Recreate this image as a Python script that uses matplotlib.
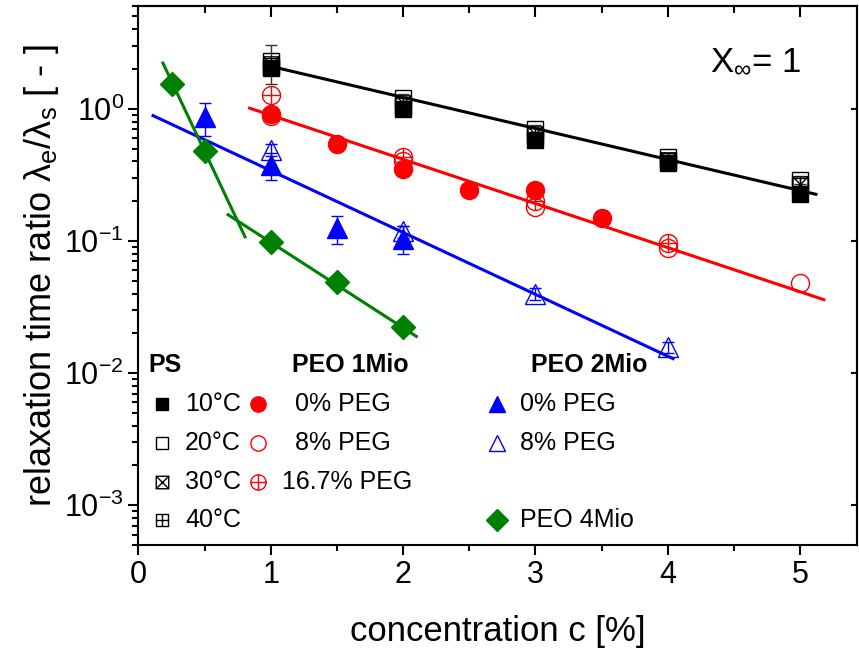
import numpy as np
import matplotlib
matplotlib.use("Agg")
import matplotlib.pyplot as plt
from matplotlib.path import Path
from matplotlib.ticker import LogLocator, NullFormatter, NullLocator, MultipleLocator

plt.rcParams["font.family"] = ["Liberation Sans", "DejaVu Sans"]
plt.rcParams["axes.unicode_minus"] = False
plt.rcParams["mathtext.fontset"] = "custom"
plt.rcParams["mathtext.rm"] = "Liberation Sans"
plt.rcParams["mathtext.it"] = "Liberation Sans:italic"
plt.rcParams["mathtext.bf"] = "Liberation Sans:bold"

# ---------------- data ----------------
ps_c = [1, 2, 3, 4, 5]
ps_10 = [2.05, 1.00, 0.58, 0.39, 0.225]
ps_20 = [2.30, 1.20, 0.70, 0.43, 0.29]
ps_30 = [2.20, 1.10, 0.65, 0.41, 0.27]
ps_40 = [2.10, 1.05, 0.62, 0.40, 0.26]
ps_20_err = [0.75, 0.10, 0.05, 0.03, 0.02]

peo1_0_c = [1, 1.5, 2, 2.5, 3, 3.5]
peo1_0 = [0.92, 0.54, 0.35, 0.245, 0.245, 0.15]
peo1_8_c = [1, 2, 3, 4, 5]
peo1_8 = [0.88, 0.40, 0.18, 0.088, 0.048]
peo1_16_c = [1, 2, 3, 4]
peo1_16 = [1.28, 0.43, 0.20, 0.097]

peo2_0_c = [0.5, 1, 1.5, 2]
peo2_0 = [0.86, 0.375, 0.125, 0.104]
peo2_0_err = [0.24, 0.085, 0.03, 0.025]
peo2_8_c = [1, 2, 3, 4]
peo2_8 = [0.49, 0.118, 0.040, 0.0157]
peo2_8_err = [0.05, 0.012, 0.004, 0.0016]

peo4_c = [0.25, 0.5, 1, 1.5, 2]
peo4 = [1.53, 0.48, 0.099, 0.049, 0.0225]

# exponential fits  y = A * 10**(-k c), drawn over [c0, c1]
fit_ps = (3.6, 0.235, 0.97, 5.12)
fit_peo1 = (1.93, 0.334, 0.84, 5.18)
fit_peo2 = (1.0, 0.468, 0.11, 4.04)
fit_peo4_a = (5.47, 2.12, 0.185, 0.805)
fit_peo4_b = (0.433, 0.647, 0.677, 2.10)

RED = "#ff0000"
BLUE = "#0000ff"
GREEN = "#008000"

# ---------------- custom markers ----------------
SQ = [(-1, -1), (1, -1), (1, 1), (-1, 1), (-1, -1)]
SQ_CODES = [Path.MOVETO] + [Path.LINETO] * 3 + [Path.CLOSEPOLY]
LINE2 = [Path.MOVETO, Path.LINETO, Path.MOVETO, Path.LINETO]
BOX_X = Path(SQ + [(-1, -1), (1, 1), (-1, 1), (1, -1)], SQ_CODES + LINE2)
BOX_PLUS = Path(SQ + [(-1, 0), (1, 0), (0, -1), (0, 1)], SQ_CODES + LINE2)
CIRC_PLUS = Path.make_compound_path(
    Path.unit_circle(), Path([(-1, 0), (1, 0), (0, -1), (0, 1)], LINE2))

fig = plt.figure(figsize=(8.59, 6.57), dpi=100)
ax = fig.add_axes([0.1612, 0.1705, 0.8364, 0.8204])
ax.set_yscale("log")
ax.set_xlim(0, 5.43)
ax.set_ylim(5e-4, 6)


def fit_line(p, color):
    A, k, c0, c1 = p
    c = np.linspace(c0, c1, 50)
    ax.plot(c, A * 10 ** (-k * c), color=color, lw=2.2, zorder=2)


fit_line(fit_ps, "black")
fit_line(fit_peo1, RED)
fit_line(fit_peo2, BLUE)
fit_line(fit_peo4_a, GREEN)
fit_line(fit_peo4_b, GREEN)

# error bars
ax.errorbar(ps_c, ps_20, yerr=ps_20_err, fmt="none", ecolor="#333333",
            elinewidth=1, capsize=4, capthick=1, zorder=3)
ax.errorbar(peo2_0_c, peo2_0, yerr=peo2_0_err, fmt="none", ecolor=BLUE,
            elinewidth=1, capsize=4, capthick=1, zorder=3)
ax.errorbar(peo2_8_c, peo2_8, yerr=peo2_8_err, fmt="none", ecolor=BLUE,
            elinewidth=1, capsize=4, capthick=1, zorder=3)

mk = dict(linestyle="none", zorder=4)
hol = dict(markerfacecolor="none", markeredgewidth=1.0)

# PS
ax.plot(ps_c, ps_10, marker="s", ms=11, color="black", **mk)
ax.plot(ps_c, ps_20, marker="s", ms=11, color="black", **hol, **mk)
ax.plot(ps_c, ps_30, marker=BOX_X, ms=11, color="black", **hol, **mk)
ax.plot(ps_c, ps_40, marker=BOX_PLUS, ms=11, color="black", **hol, **mk)
# PEO 1Mio
ax.plot(peo1_0_c, peo1_0, marker="o", ms=13, color=RED, **mk)
ax.plot(peo1_8_c, peo1_8, marker="o", ms=13, color=RED, **hol, **mk)
ax.plot(peo1_16_c, peo1_16, marker=CIRC_PLUS, ms=13, color=RED, **hol, **mk)
# PEO 2Mio
ax.plot(peo2_0_c, peo2_0, marker="^", ms=15, color=BLUE, **mk)
ax.plot(peo2_8_c, peo2_8, marker="^", ms=15, color=BLUE, **hol, **mk)
# PEO 4Mio
ax.plot(peo4_c, peo4, marker="D", ms=12, color=GREEN, **mk)

# ---------------- axes styling ----------------
for s in ax.spines.values():
    s.set_linewidth(1.5)
ax.xaxis.set_major_locator(MultipleLocator(1))
ax.xaxis.set_minor_locator(MultipleLocator(0.5))
ax.yaxis.set_major_locator(LogLocator(base=10, numticks=10))
ax.yaxis.set_minor_locator(LogLocator(base=10, subs=np.arange(2, 10), numticks=10))
ax.yaxis.set_minor_formatter(NullFormatter())
ax.tick_params(which="both", direction="out", width=1.5, labelsize=22)
ax.tick_params(which="major", length=7)
ax.tick_params(which="minor", length=4)

top = ax.secondary_xaxis("top")
top.xaxis.set_major_locator(MultipleLocator(1))
top.xaxis.set_minor_locator(MultipleLocator(0.5))
top.tick_params(which="both", direction="in", width=1.5, labeltop=False)
top.tick_params(which="major", length=8)
top.tick_params(which="minor", length=5)
top.spines["top"].set_linewidth(1.5)

right = ax.secondary_yaxis("right")
right.yaxis.set_major_locator(LogLocator(base=10, numticks=10))
right.yaxis.set_minor_locator(NullLocator())
right.tick_params(which="both", direction="in", width=1.5, length=4, labelright=False)
right.spines["right"].set_linewidth(1.5)

ax.set_xlabel("concentration c [%]", fontsize=25, labelpad=18)
ax.set_ylabel("relaxation time ratio λ$_\\mathregular{e}$/λ$_\\mathregular{s}$ [ - ]",
              fontsize=26, labelpad=2)

ax.text(0.795, 0.90, "X$_\\infty$= 1", transform=ax.transAxes, fontsize=25,
        va="center", ha="left")

# ---------------- hand-built legend ----------------
T = ax.transAxes
lf = dict(transform=T, fontsize=18, va="center", ha="left")
hf = dict(lf, fontweight="bold")
rows = [0.2616, 0.189, 0.117, 0.046]
ax.text(0.0132, 0.334, "PS", **hf)
ax.text(0.214, 0.334, "PEO 1Mio", **hf)
ax.text(0.546, 0.334, "PEO 2Mio", **hf)

ps_labels = ["10°C", "20°C", "30°C", "40°C"]
ps_marks = [("s", True), ("s", False), (BOX_X, False), (BOX_PLUS, False)]
for y, lab, (m, filled) in zip(rows, ps_labels, ps_marks):
    ax.plot(0.0327, y, marker=m, ms=9, color="black", transform=T, clip_on=False,
            markerfacecolor="black" if filled else "none", markeredgewidth=1)
    ax.text(0.0647, y, lab, **lf)

peo1_labels = ["0% PEG", "8% PEG", "16.7% PEG"]
peo1_x = [0.218, 0.218, 0.1997]
peo1_marks = [("o", True), ("o", False), (CIRC_PLUS, False)]
for y, lab, lx, (m, filled) in zip(rows, peo1_labels, peo1_x, peo1_marks):
    ax.plot(0.166, y, marker=m, ms=11, color=RED, transform=T, clip_on=False,
            markerfacecolor=RED if filled else "none", markeredgewidth=1)
    ax.text(lx, y, lab, **lf)

peo2_labels = ["0% PEG", "8% PEG"]
for y, lab, filled in zip(rows, peo2_labels, [True, False]):
    ax.plot(0.499, y, marker="^", ms=12, color=BLUE, transform=T, clip_on=False,
            markerfacecolor=BLUE if filled else "none", markeredgewidth=1)
    ax.text(0.531, y, lab, **lf)

ax.plot(0.499, rows[3], marker="D", ms=11, color=GREEN, transform=T, clip_on=False)
ax.text(0.531, rows[3], "PEO 4Mio", **lf)

fig.savefig("out.png", dpi=100)
